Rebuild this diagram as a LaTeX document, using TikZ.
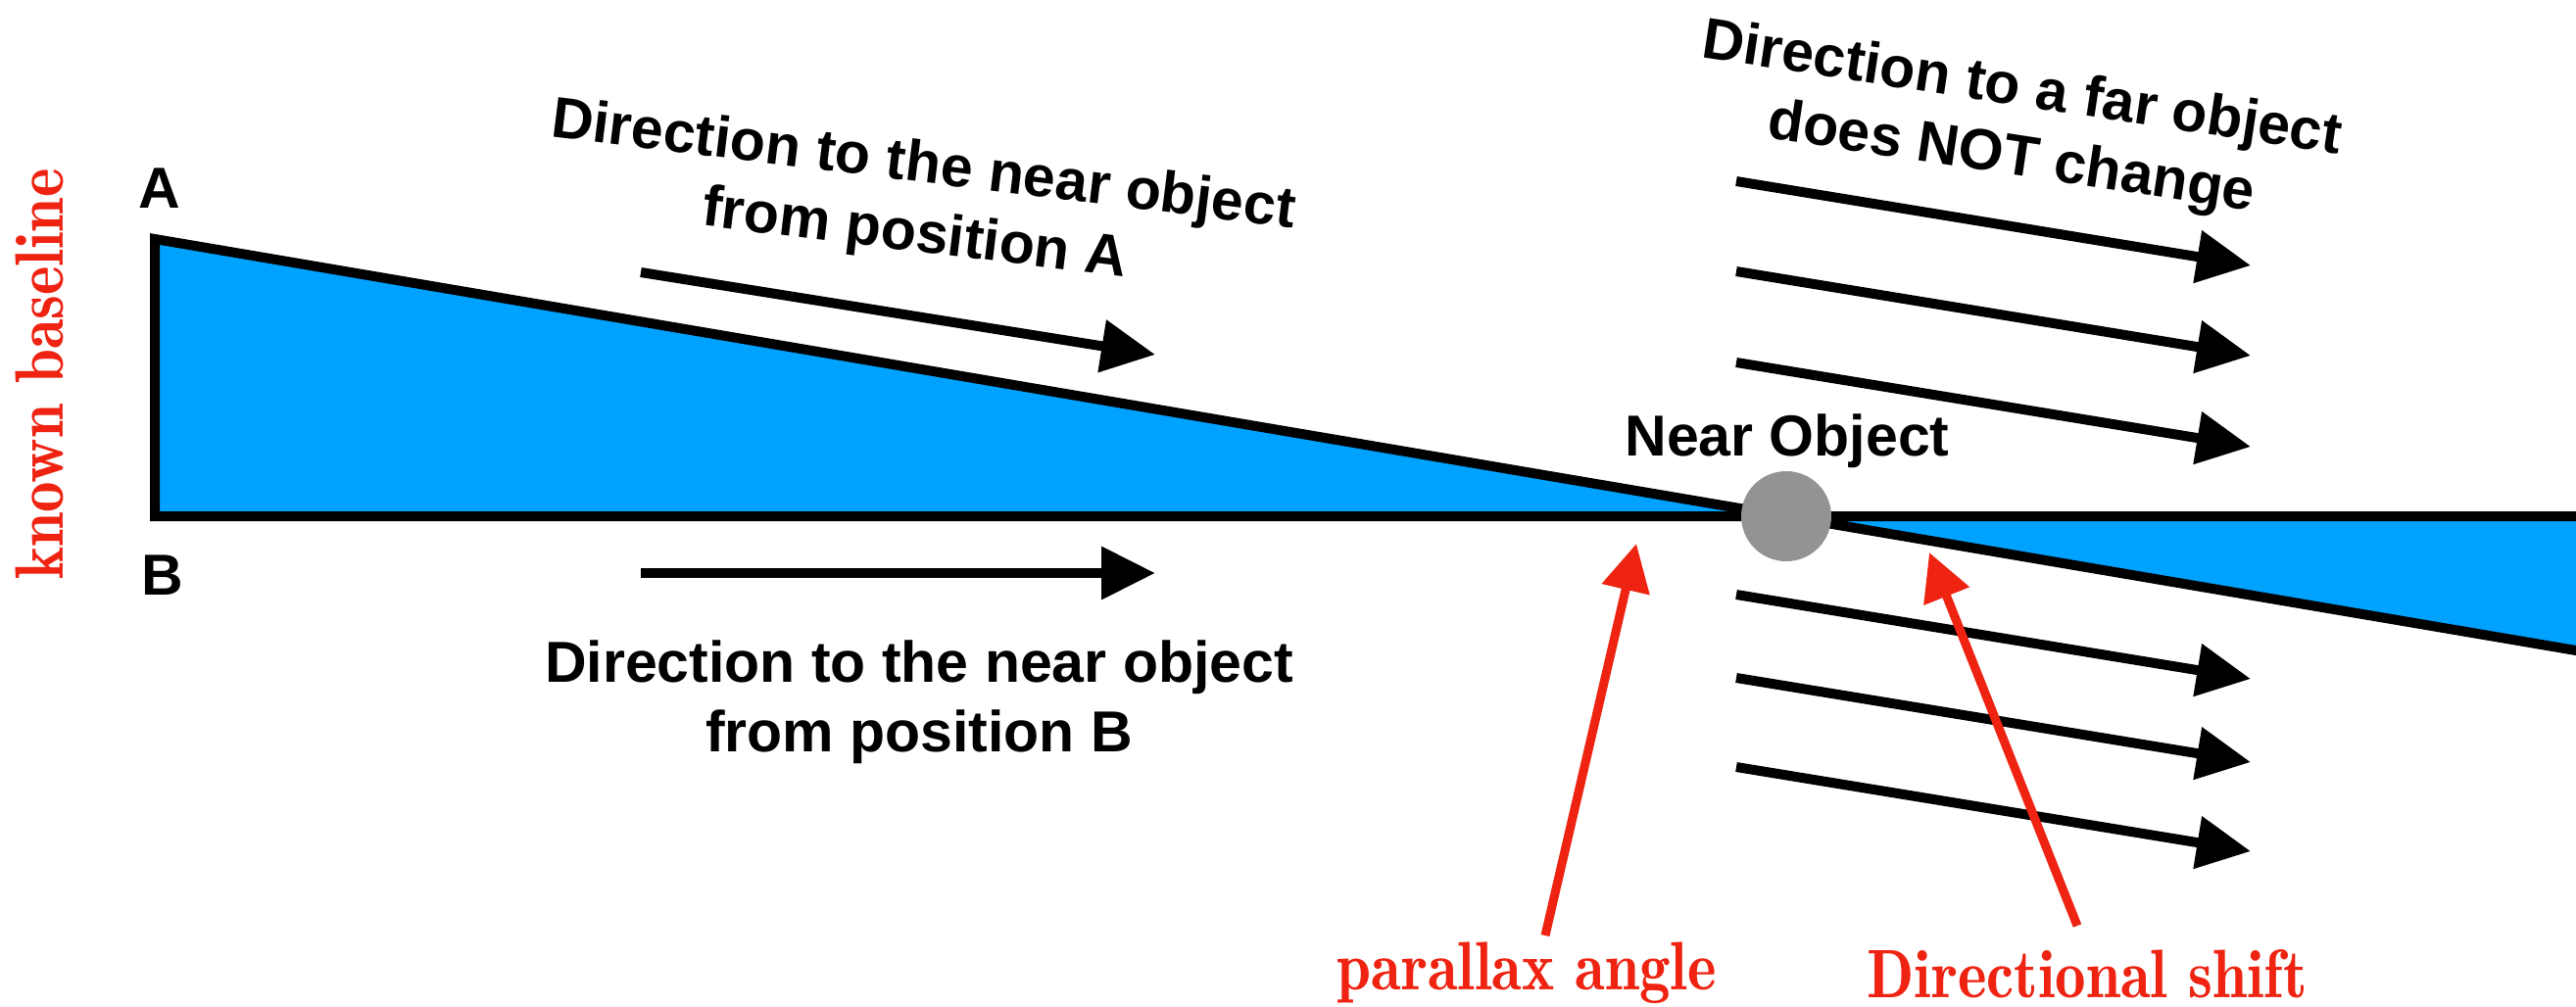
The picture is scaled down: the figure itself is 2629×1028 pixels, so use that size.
\documentclass[tikz,border=0pt]{standalone}
\usepackage{fontspec}
\newfontfamily\hel{Liberation Sans}
\newfontfamily\redf{lmromandemi10-regular.otf}[FakeStretch=0.9]
\usetikzlibrary{arrows.meta}
\definecolor{skyb}{RGB}{0,162,255}
\definecolor{redc}{RGB}{238,35,17}
\definecolor{objg}{RGB}{147,147,147}
\begin{document}
\begin{tikzpicture}[x=1pt,y=-1pt,
  lbl/.style={font=\hel\bfseries\fontsize{59}{71}\selectfont, inner sep=0pt, align=center},
  rtxt/.style={font=\redf\fontsize{70}{76}\selectfont, text=redc, inner sep=0pt},
  blkarrow/.style={line width=10pt, -{Triangle[length=55pt,width=52pt]}},
  redarrow/.style={line width=9pt, draw=redc, -{Triangle[length=48pt,width=48pt]}},
  edgeline/.style={line width=10pt, line join=miter}
]
\useasboundingbox (0,0) rectangle (2629,1028);
\fill[white] (0,0) rectangle (2629,1028);
\clip (0,0) rectangle (2629,1028);
% triangles
\coordinate (A) at (158,244);
\coordinate (B) at (158,527);
\coordinate (O) at (1823,527);
\coordinate (R1) at (2700,527);
\coordinate (R2) at (2700,676.1);
\filldraw[fill=skyb, edgeline] (A) -- (B) -- (O) -- cycle;
\filldraw[fill=skyb, edgeline] (O) -- (R1) -- (R2) -- cycle;
\node[circle, fill=objg, minimum size=92pt, inner sep=0pt] (obj) at (O) {};
% labels
\node[lbl, anchor=base] (nearlbl) at (1824,465) {Near Object};
\node[lbl, anchor=base] (labA) at (163,212) {A};
\node[lbl, anchor=base] (labB) at (166,607) {B};
% near arrows
\coordinate (a1) at (654,278); \coordinate (a2) at (1179,362);
\draw[blkarrow] (a1) -- (a2);
\coordinate (b1) at (654,585); \coordinate (b2) at (1179,585);
\draw[blkarrow] (b1) -- (b2);
% far arrows
\foreach \yy [count=\i] in {185,277,370,607,692,783}{
  \coordinate (f\i s) at (1772,\yy);
  \coordinate (f\i e) at (2297,\yy+86);
  \draw[blkarrow] (f\i s) -- (f\i e);
}
% texts
\node[lbl, rotate=-7] (txtA) at (938,206) {Direction to the near object\\from position A};
\node[lbl, rotate=-8.6] (txtF) at (2058,128) {Direction to a far object\\does NOT change};
\node[lbl] (txtB) at (938,717) {Direction to the near object\\from position B};
% red
\coordinate (p1) at (1577,955); \coordinate (p2) at (1670,555);
\draw[redarrow] (p1) -- (p2);
\coordinate (d1) at (2120,945); \coordinate (d2) at (1969,564);
\draw[redarrow] (d1) -- (d2);
\node[rtxt, anchor=base] (parlbl) at (1558,1010) {parallax angle};
\node[rtxt, anchor=base] (dslbl) at (2130,1018) {Directional shift};
\node[rtxt, rotate=90] (kb) at (40,382) {known baseline};
\end{tikzpicture}
\end{document}
